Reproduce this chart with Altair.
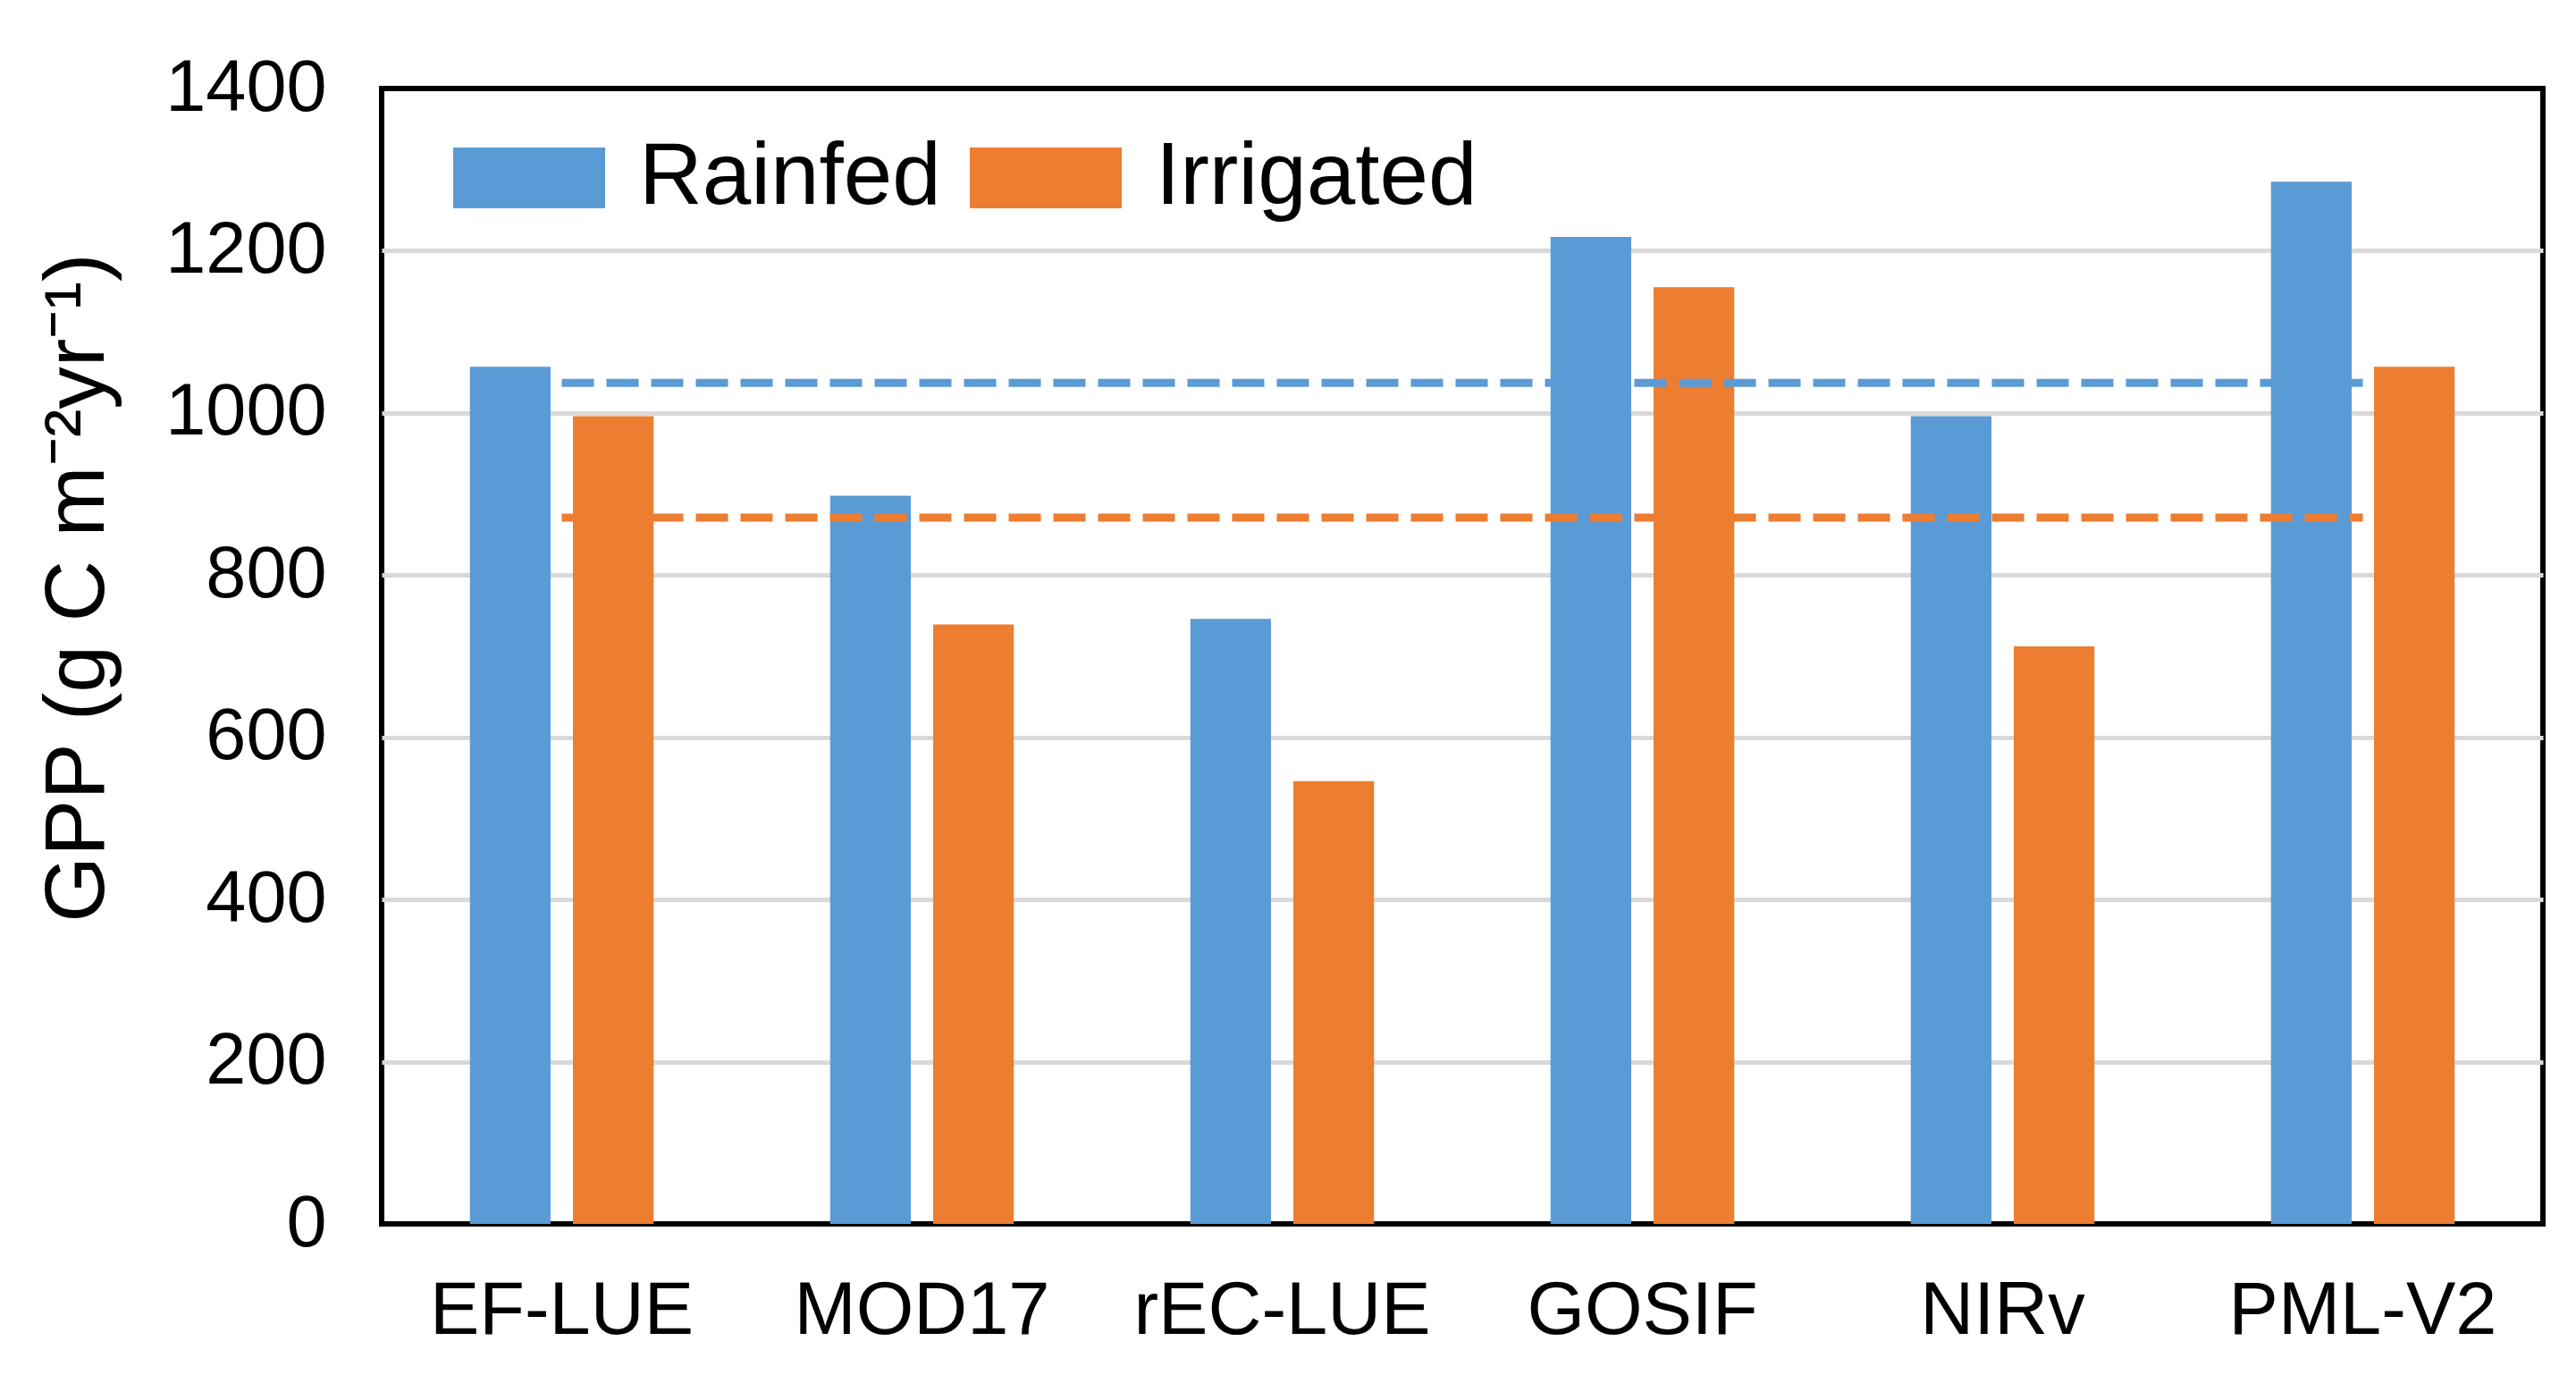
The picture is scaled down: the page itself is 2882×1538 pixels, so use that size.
import altair as alt
import pandas as pd

models = ["EF-LUE", "MOD17", "rEC-LUE", "GOSIF", "NIRv", "PML-V2"]
series = ["Rainfed", "Irrigated"]
rainfed = [1057, 898, 746, 1217, 996, 1285]
irrigated = [996, 739, 546, 1155, 712, 1057]
mean_rainfed = 1037
mean_irrigated = 871
y_ticks = [0, 200, 400, 600, 800, 1000, 1200, 1400]

BLUE = "#5B9BD5"
ORANGE = "#ED7D31"
FONT = "Liberation Sans"

rows = []
for m, r, i in zip(models, rainfed, irrigated):
    rows.append({"model": m, "series": "Rainfed", "gpp": r})
    rows.append({"model": m, "series": "Irrigated", "gpp": i})
bars_df = pd.DataFrame(rows)

means_df = pd.DataFrame([
    {"series": "Rainfed", "start": models[0], "end": models[-1], "gpp": mean_rainfed},
    {"series": "Irrigated", "start": models[0], "end": models[-1], "gpp": mean_irrigated},
])

x_scale = alt.Scale(domain=models, paddingInner=0.49, paddingOuter=0.245)
y_scale = alt.Scale(domain=[0, 1400], nice=False)

legend_path = "M-1,-0.4L1,-0.4L1,0.4L-1,0.4Z"

bars = alt.Chart(bars_df).mark_bar().encode(
    x=alt.X("model:N", scale=x_scale, sort=models,
            axis=alt.Axis(title=None, labelAngle=0, domain=False, ticks=False,
                          labelFontSize=83, labelFont=FONT, labelColor="black",
                          labelPadding=56, labelBaseline="top", labelLimit=2000)),
    xOffset=alt.XOffset("series:N", sort=series,
                        scale=alt.Scale(domain=series, paddingInner=0.217, paddingOuter=0)),
    y=alt.Y("gpp:Q", scale=y_scale,
            axis=alt.Axis(values=y_ticks, format="d", title="GPP (g C m⁻²yr⁻¹)",
                          domain=False, ticks=False, labelLimit=2000,
                          labelFontSize=81, labelFont=FONT, labelColor="black", labelPadding=62,
                          gridColor="#d9d9d9", gridWidth=5,
                          gridOpacity=alt.condition("datum.value == 0 || datum.value == 1400",
                                                    alt.value(0), alt.value(1)),
                          titleFontSize=95, titleFont=FONT, titleFontWeight="normal",
                          titleColor="black", titleAngle=270, titleAlign="center",
                          titleBaseline="alphabetic", titleX=-312, titleY=558)),
    color=alt.Color("series:N", sort=series,
                    scale=alt.Scale(domain=series, range=[BLUE, ORANGE]),
                    legend=alt.Legend(title=None, orient="none", direction="horizontal",
                                      legendX=80, legendY=15,
                                      symbolType=legend_path, symbolSize=28900,
                                      symbolStrokeWidth=0, symbolOpacity=1,
                                      labelFontSize=98, labelFont=FONT, labelColor="black",
                                      labelLimit=1000, labelOffset=38, columnPadding=32)),
)

rule_r = alt.Chart(means_df).transform_filter(alt.datum.series == "Rainfed").mark_rule(
    color=BLUE, strokeWidth=9, strokeDash=[36, 14], strokeCap="butt"
).encode(
    x=alt.X("start:N", scale=x_scale, sort=models),
    x2="end:N",
    y=alt.Y("gpp:Q", scale=y_scale),
)

rule_i = alt.Chart(means_df).transform_filter(alt.datum.series == "Irrigated").mark_rule(
    color=ORANGE, strokeWidth=9, strokeDash=[36, 14], strokeCap="butt"
).encode(
    x=alt.X("start:N", scale=x_scale, sort=models),
    x2="end:N",
    y=alt.Y("gpp:Q", scale=y_scale),
)

chart = alt.layer(bars, rule_r, rule_i).properties(
    width=2418,
    height=1270,
    autosize=alt.AutoSizeParams(type="none"),
    padding={"left": 419, "top": 91, "right": 20, "bottom": 150},
    background="white",
).configure_view(
    stroke="black", strokeWidth=6
)

chart.save("out.html", embed_options={"renderer": "svg", "actions": False})
